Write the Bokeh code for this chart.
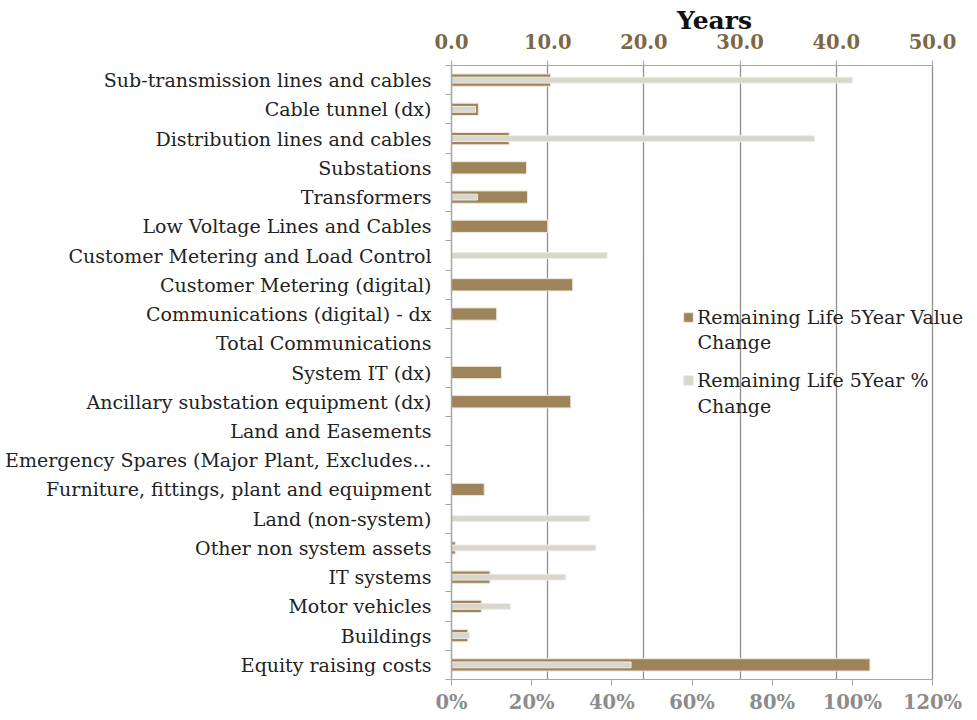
from bokeh.plotting import figure
from bokeh.models import (Range1d, LinearAxis, FixedTicker, NumeralTickFormatter,
                          ColumnDataSource, Legend, LegendItem, Label)
from bokeh.embed import file_html
from bokeh.resources import INLINE

categories = [
    "Sub-transmission lines and cables",
    "Cable tunnel (dx)",
    "Distribution lines and cables",
    "Substations",
    "Transformers",
    "Low Voltage Lines and Cables",
    "Customer Metering and Load Control",
    "Customer Metering (digital)",
    "Communications (digital) - dx",
    "Total Communications",
    "System IT (dx)",
    "Ancillary substation equipment (dx)",
    "Land and Easements",
    "Emergency Spares (Major Plant, Excludes\u2026",
    "Furniture, fittings, plant and equipment",
    "Land (non-system)",
    "Other non system assets",
    "IT systems",
    "Motor vehicles",
    "Buildings",
    "Equity raising costs",
]
value_change_years = [10.3, 2.8, 6.0, 7.8, 7.9, 10.0, 0.0, 12.6, 4.7, 0.0, 5.2, 12.4,
                      0.0, 0.0, 3.4, 0.0, 0.4, 4.0, 3.1, 1.7, 43.5]
pct_change = [1.00, 0.06, 0.905, 0.0, 0.065, 0.0, 0.388, 0.0, 0.0, 0.0, 0.0, 0.0,
              0.0, 0.0, 0.0, 0.345, 0.36, 0.285, 0.147, 0.045, 0.448]
year_ticks = [0, 10, 20, 30, 40, 50]
pct_ticks = [0, 0.2, 0.4, 0.6, 0.8, 1.0, 1.2]
series_names = ["Remaining Life 5Year Value", "Remaining Life 5Year %"]
series_names_line2 = ["Change", "Change"]

n = len(categories)
ypos = [n - i - 0.5 for i in range(n)]
src = ColumnDataSource(dict(y=ypos, years=value_change_years, pct=pct_change))

BROWN = "#9e845a"
GREY = "#d9d6cd"
FONT = "DejaVu Serif"
LBL = "19px"

# frame spans 451..977 px; axes drawn only over 0..50 years / 0..120 %
EXT = 526.0 / 481.0

p = figure(width=977, height=720, output_backend="svg", toolbar_location=None,
           x_range=Range1d(0, year_ticks[-1] * EXT), y_range=Range1d(0, n),
           x_axis_location="above", min_border_left=451, min_border_right=0,
           min_border_top=65, min_border_bottom=41)
p.extra_x_ranges = {"pct": Range1d(0, pct_ticks[-1] * EXT)}
p.outline_line_color = None

r1 = p.hbar(y="y", right="years", left=0, height=0.42, source=src,
            fill_color=BROWN, line_color="#efe7d8", line_width=1)
r2 = p.hbar(y="y", right="pct", left=0, height=0.2, source=src, x_range_name="pct",
            fill_color=GREY, line_color="#eeece6", line_width=1)

# top axis (years)
top = p.xaxis[0]
top.bounds = (year_ticks[0], year_ticks[-1])
top.ticker = FixedTicker(ticks=year_ticks)
top.formatter = NumeralTickFormatter(format="0.0")
top.axis_label = "Years"
top.axis_label_text_font = FONT
top.axis_label_text_font_style = "bold"
top.axis_label_text_font_size = "25px"
top.axis_label_text_color = "#111111"
top.axis_label_standoff = -4
top.major_label_text_font = FONT
top.major_label_text_font_style = "bold"
top.major_label_text_font_size = "19.5px"
top.major_label_text_color = "#7a6848"
top.major_label_standoff = 12
top.axis_line_color = "#a6a6a6"
top.major_tick_line_color = "#a6a6a6"
top.major_tick_out = 5
top.major_tick_in = 0
top.minor_tick_line_color = None

# bottom axis (percent)
bot = LinearAxis(x_range_name="pct", ticker=FixedTicker(ticks=pct_ticks),
                 formatter=NumeralTickFormatter(format="0%"),
                 bounds=(pct_ticks[0], pct_ticks[-1]))
bot.major_label_text_font = FONT
bot.major_label_text_font_style = "bold"
bot.major_label_text_font_size = "19.5px"
bot.major_label_text_color = "#8c8c8c"
bot.major_label_standoff = 5
bot.axis_line_color = "#a6a6a6"
bot.major_tick_line_color = "#a6a6a6"
bot.major_tick_out = 6
bot.major_tick_in = 0
bot.minor_tick_line_color = None
p.add_layout(bot, "below")

# left category axis
ya = p.yaxis[0]
ya.ticker = FixedTicker(ticks=ypos, minor_ticks=list(range(n + 1)))
ya.major_label_overrides = {y: c for y, c in zip(ypos, categories)}
ya.major_label_text_font = FONT
ya.major_label_text_font_size = LBL
ya.major_label_text_color = "#222222"
ya.major_tick_line_color = None
ya.minor_tick_line_color = "#a6a6a6"
ya.minor_tick_out = 6
ya.minor_tick_in = 0
ya.major_label_standoff = 14
ya.axis_line_color = "#a6a6a6"
ya.axis_line_width = 1.5

p.xgrid.grid_line_color = "#8f8f8f"
p.xgrid.grid_line_width = 1.3
p.xgrid.ticker = FixedTicker(ticks=year_ticks[1:])
p.ygrid.grid_line_color = None

legend = Legend(items=[
    LegendItem(label=series_names[0], renderers=[r1]),
    LegendItem(label=series_names[1], renderers=[r2]),
], location=(231, 287))
legend.background_fill_alpha = 0
legend.border_line_color = None
legend.padding = 0
legend.margin = 0
legend.label_text_font = FONT
legend.label_text_font_size = LBL
legend.label_text_color = "#222222"
legend.label_height = 25
legend.glyph_width = 12
legend.glyph_height = 12
legend.spacing = 38
legend.label_standoff = 3
p.add_layout(legend)

for yv, txt in zip([11.535, 9.37], series_names_line2):
    p.add_layout(Label(x=25.57, y=yv, text=txt, text_font=FONT, text_font_size=LBL,
                       text_color="#222222", text_baseline="middle"))

open("out.html", "w").write(file_html(p, INLINE))
